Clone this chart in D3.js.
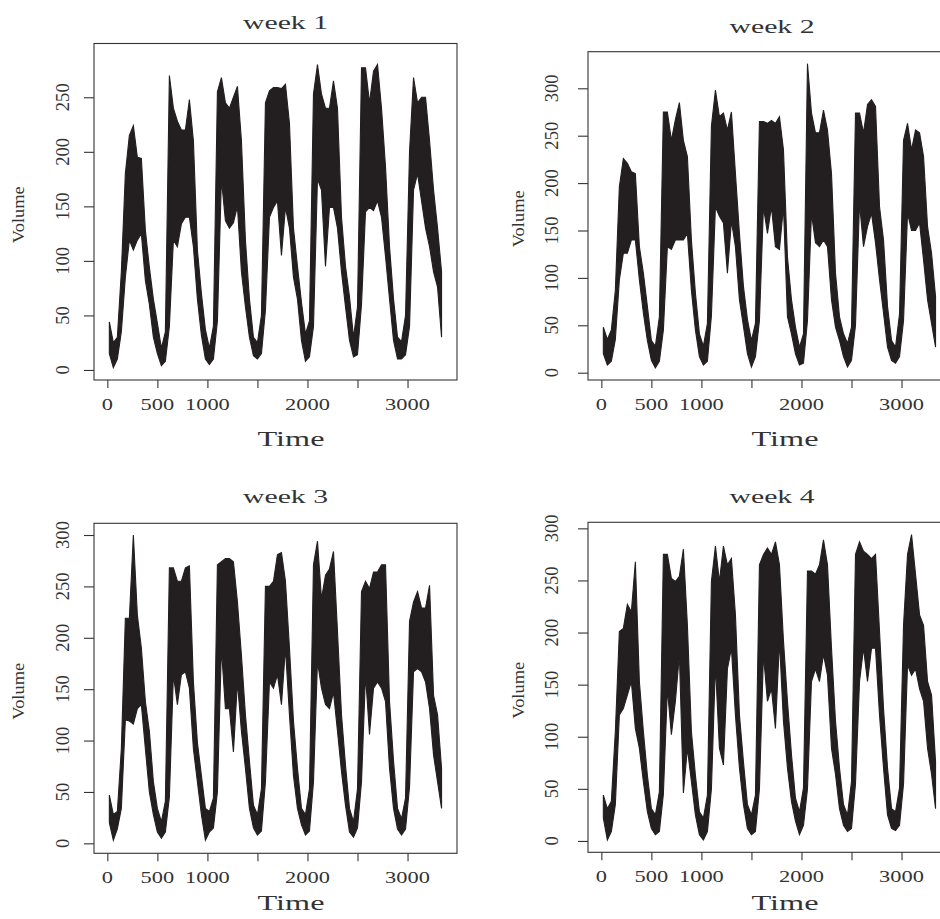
<!DOCTYPE html>
<html><head><meta charset="utf-8">
<script src="https://cdn.jsdelivr.net/npm/d3@7"></script>
<style>
body{margin:0;background:#fff;overflow:hidden}
text{font-family:"Liberation Serif","Times New Roman",serif;fill:#333}
</style>
</head><body><svg id="c" width="940" height="919"></svg>
<script>
// ---------------- data ----------------
const panelTitles = ["week 1", "week 2", "week 3", "week 4"];
const nTime = 3360;        // observations per week (1..3360)
const binSize = 40;        // each envelope value covers 40 time steps
// upper / lower envelope of Volume per 40-step bin (84 bins, 12 per day)
const w1Hi = [44,25,30,90,180,215,224,195,194,128,94,65, 43,20,35,270,240,228,220,220,248,210,110,70,
  37,20,40,255,268,245,240,250,260,210,119,65, 30,25,50,245,256,259,259,258,262,226,130,95,
  62,33,45,253,280,253,240,240,265,240,140,95, 67,30,58,277,277,245,274,280,240,186,113,65,
  30,26,50,200,268,245,250,250,210,165,130,90];
const w1Lo = [15,2,10,35,85,119,110,119,125,82,60,30, 15,4,8,40,119,113,134,140,140,113,65,32,
  10,5,10,45,175,137,130,135,150,90,58,30, 13,10,15,55,140,149,155,105,149,130,85,65,
  27,8,12,40,175,165,95,149,149,130,90,58, 27,12,14,60,145,149,146,155,140,104,65,27,
  10,10,14,40,165,180,155,130,113,90,76,30];
const w2Hi = [48,35,45,87,196,226,221,212,210,133,105,70, 34,28,59,275,275,245,267,285,245,228,140,84,
  41,28,52,260,298,270,274,256,275,210,147,91, 56,34,52,265,265,263,266,263,270,235,122,77,
  48,27,41,326,274,253,253,277,256,210,105,59, 41,31,48,274,274,253,283,288,281,175,140,70,
  34,27,62,245,263,235,256,253,228,154,126,80];
const w2Lo = [20,8,12,35,98,126,126,140,140,98,63,34, 13,5,12,45,133,130,140,140,140,147,87,45,
  17,8,12,60,175,165,158,105,160,133,77,49, 20,6,17,55,175,147,175,133,130,175,59,41,
  20,8,10,55,168,137,133,140,133,77,48,34, 17,6,13,50,179,133,154,168,137,98,63,27,
  13,10,17,55,168,150,150,158,119,77,52,27];
const w3Hi = [47,28,31,92,219,219,300,222,190,138,109,60, 34,21,41,268,268,255,255,268,270,157,98,66,
  34,31,44,271,274,277,277,274,235,183,125,80, 37,28,53,250,250,255,281,283,255,190,119,73,
  34,28,53,271,294,238,261,267,284,206,125,76, 34,21,53,245,255,248,264,264,271,271,138,80,
  34,24,44,216,235,245,229,229,251,144,125,73];
const w3Lo = [20,3,14,34,120,119,116,131,135,92,50,28, 11,5,11,45,164,135,164,167,151,92,60,28,
  3,11,15,50,190,131,131,89,157,109,73,34, 15,8,12,60,157,151,164,135,190,125,66,34,
  18,8,12,60,177,151,135,131,147,109,70,37, 11,6,15,60,164,106,151,157,151,138,73,34,
  14,8,14,55,167,170,167,157,131,86,60,34];
const w4Hi = [44,31,38,105,201,204,227,220,268,153,105,63, 31,25,47,275,275,252,249,254,280,207,105,63,
  28,22,44,249,283,249,283,265,271,217,121,76, 35,25,44,265,275,281,275,287,265,192,134,83,
  41,28,51,259,259,256,265,289,265,185,115,70, 35,25,57,275,287,278,275,271,275,201,127,70,
  31,28,51,207,275,294,256,217,207,153,140,76];
const w4Lo = [22,1,9,35,121,127,140,153,108,89,57,28, 12,6,9,45,146,102,134,179,46,89,57,25,
  6,1,9,50,169,89,73,165,185,121,70,35, 12,6,9,50,179,134,146,108,192,115,70,38,
  19,6,15,50,153,165,153,179,159,89,64,31, 15,9,12,55,153,185,153,185,185,121,70,25,
  12,10,15,55,169,159,165,146,134,89,64,31];

const xTicks = [0, 500, 1000, 1500, 2000, 2500, 3000];
const xTickLabels = ["0", "500", "1000", "", "2000", "", "3000"];
const yTicks1 = [0, 50, 100, 150, 200, 250];
const yTicks234 = [0, 50, 100, 150, 200, 250, 300];
const yLimits = [[-9.2, 299.3], [-7.7, 338.6], [-9.7, 311.4], [-10.9, 305.8]];
const xLabel = "Time", yLabel = "Volume";

// ---------------- layout ----------------
const panels = [
  {hi: w1Hi, lo: w1Lo, yt: yTicks1,   box: [94, 457, 43.5, 380],    title: 29,  tcx: 285.5, timeY: 446, ylabX: 63,  volX: 18},
  {hi: w2Hi, lo: w2Lo, yt: yTicks234, box: [588, 951, 51.7, 380],   title: 33,  tcx: 772,   timeY: 446, ylabX: 552, volX: 518},
  {hi: w3Hi, lo: w3Lo, yt: yTicks234, box: [94, 457, 523.3, 853.3], title: 503, tcx: 285.5, timeY: 910, ylabX: 63,  volX: 18},
  {hi: w4Hi, lo: w4Lo, yt: yTicks234, box: [588, 951, 522.3, 852.3], title: 503, tcx: 772,  timeY: 910, ylabX: 552, volX: 518}
];

const svg = d3.select("#c");
const ink = "#231f20";

panels.forEach((p, i) => {
  const [x0, x1, y0, y1] = p.box;
  const pad = (nTime - 1) * 0.04;
  const x = d3.scaleLinear().domain([1 - pad, nTime + pad]).range([x0, x1]);
  const y = d3.scaleLinear().domain(yLimits[i]).range([y1, y0]);
  const g = svg.append("g");

  // series envelope: band between lower and upper values of each bin
  const bins = p.hi.map((h, k) => ({t: k * binSize + binSize / 2, hi: h, lo: p.lo[k]}));
  g.append("path")
    .attr("d", d3.area().x(d => x(d.t)).y0(d => y(d.lo)).y1(d => y(d.hi))(bins))
    .attr("fill", ink).attr("stroke", ink).attr("stroke-width", 1.1)
    .attr("stroke-linejoin", "miter");

  // box
  g.append("rect").attr("x", x0).attr("y", y0).attr("width", x1 - x0).attr("height", y1 - y0)
    .attr("fill", "none").attr("stroke", "#333").attr("stroke-width", 1.1);

  // x axis
  const xa = g.append("g").attr("transform", `translate(0,${y1})`)
    .call(d3.axisBottom(x).tickValues(xTicks).tickSize(8).tickSizeOuter(0).tickFormat(() => ""));
  xa.select(".domain").remove();
  xa.selectAll(".tick line").attr("stroke", "#333").attr("stroke-width", 1.1);
  xTicks.forEach((t, j) => {
    const s = xTickLabels[j];
    if (!s) return;
    g.append("text").attr("x", x(t)).attr("y", y1 + 29.5).attr("text-anchor", "middle")
      .attr("font-size", 17.5).attr("textLength", 11.2 * s.length).attr("lengthAdjust", "spacingAndGlyphs")
      .text(s);
  });

  // y axis
  const ya = g.append("g").attr("transform", `translate(${x0},0)`)
    .call(d3.axisLeft(y).tickValues(p.yt).tickSize(10).tickSizeOuter(0).tickFormat(() => ""));
  ya.select(".domain").remove();
  ya.selectAll(".tick line").attr("stroke", "#333").attr("stroke-width", 1.1);
  p.yt.forEach(v => {
    const s = String(v);
    g.append("text").attr("transform", `translate(${p.ylabX},${y(v)}) rotate(-90)`)
      .attr("text-anchor", "middle").attr("dominant-baseline", "central")
      .attr("font-size", 18).attr("textLength", 9.3 * s.length).attr("lengthAdjust", "spacingAndGlyphs")
      .text(s);
  });

  // titles and axis labels
  g.append("text").attr("x", p.tcx).attr("y", p.title).attr("text-anchor", "middle")
    .attr("font-size", 19).attr("textLength", 85).attr("lengthAdjust", "spacingAndGlyphs")
    .text(panelTitles[i]);
  g.append("text").attr("x", p.tcx + (i % 2 ? 13 : 5.5)).attr("y", p.timeY).attr("text-anchor", "middle")
    .attr("font-size", 21).attr("textLength", 67).attr("lengthAdjust", "spacingAndGlyphs")
    .text(xLabel);
  g.append("text").attr("transform", `translate(${p.volX},${(y0 + y1) / 2 + 3}) rotate(-90)`)
    .attr("text-anchor", "middle").attr("dominant-baseline", "central")
    .attr("font-size", 17.5).attr("textLength", 57).attr("lengthAdjust", "spacingAndGlyphs")
    .text(yLabel);
});
</script>
</body></html>
